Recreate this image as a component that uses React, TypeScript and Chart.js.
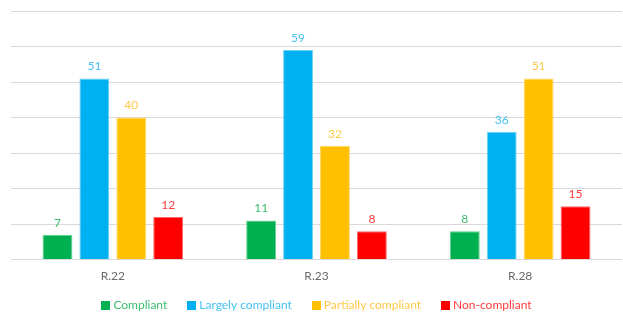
import React, { useEffect, useRef } from "react";
import { Chart, registerables } from "chart.js";

Chart.register(...registerables);

const categories = ["R.22", "R.23", "R.28"];
const seriesNames = ["Compliant", "Largely compliant", "Partially compliant", "Non-compliant"];
const compliant = [7, 11, 8];
const largelyCompliant = [51, 59, 36];
const partiallyCompliant = [40, 32, 51];
const nonCompliant = [12, 8, 15];
const yTicks = [0, 10, 20, 30, 40, 50, 60, 70];

const barColors = ["#00B050", "#00B0F0", "#FFC000", "#FF0000"];
const borderColors = ["#5fd08f", "#6fd3f6", "#ffd766", "#ff6b6b"];
const labelColors = ["#3dbd6e", "#45c2f2", "#ffc94a", "#ff3b3b"];
const FONT = "Lato, 'Open Sans', sans-serif";

const dataLabelPlugin = {
  id: "dataLabels",
  afterDatasetsDraw(chart: any) {
    const ctx = chart.ctx;
    ctx.save();
    ctx.font = `12px ${FONT}`;
    ctx.textAlign = "center";
    ctx.textBaseline = "bottom";
    chart.data.datasets.forEach((ds: any, i: number) => {
      const meta = chart.getDatasetMeta(i);
      meta.data.forEach((bar: any, j: number) => {
        ctx.fillStyle = labelColors[i];
        ctx.fillText(String(ds.data[j]), bar.x, bar.y - 6);
      });
    });
    ctx.restore();
  },
};

const bottomLegendPlugin = {
  id: "bottomLegend",
  afterDraw(chart: any) {
    const ctx = chart.ctx;
    const box = 9;
    const gap = 3;
    const itemGap = 20;
    ctx.save();
    ctx.font = `12px ${FONT}`;
    ctx.textBaseline = "middle";
    ctx.textAlign = "left";
    const widths = chart.data.datasets.map((ds: any) => box + gap + ctx.measureText(ds.label).width);
    const total = widths.reduce((a: number, b: number) => a + b, 0) + itemGap * (widths.length - 1);
    const area = chart.chartArea;
    let x = (area.left + area.right) / 2 - total / 2;
    const cy = chart.height - 9;
    chart.data.datasets.forEach((ds: any, i: number) => {
      ctx.fillStyle = barColors[i];
      ctx.fillRect(Math.round(x), Math.round(cy - box / 2), box, box);
      ctx.fillStyle = labelColors[i];
      ctx.fillText(ds.label, x + box + gap, cy);
      x += widths[i] + itemGap;
    });
    ctx.restore();
  },
};

export default function App() {
  const ref = useRef<HTMLCanvasElement>(null);
  useEffect(() => {
    document.body.style.margin = "0";
    const seriesData = [compliant, largelyCompliant, partiallyCompliant, nonCompliant];
    const chart = new Chart(ref.current as HTMLCanvasElement, {
      type: "bar",
      data: {
        labels: categories,
        datasets: seriesNames.map((name, i) => ({
          label: name,
          data: seriesData[i],
          backgroundColor: barColors[i],
          borderColor: borderColors[i],
          borderWidth: 1,
          categoryPercentage: 0.725,
          barPercentage: 0.81,
        })),
      },
      options: {
        animation: false,
        responsive: false,
        maintainAspectRatio: false,
        layout: { padding: { left: 11, right: 1, top: 11, bottom: 22 } },
        plugins: {
          tooltip: { enabled: false },
          legend: { display: false },
        },
        scales: {
          x: {
            grid: { display: false, drawTicks: false },
            border: { display: false },
            ticks: { color: "#6b6b6b", font: { family: FONT, size: 12 }, padding: 9 },
          },
          y: {
            min: 0,
            max: 70,
            afterBuildTicks: (axis: any) => {
              axis.ticks = yTicks.map((v) => ({ value: v }));
            },
            grid: { color: "#d9d9d9", lineWidth: 1, drawTicks: false },
            border: { display: false },
            ticks: { display: false },
          },
        },
      },
      plugins: [dataLabelPlugin, bottomLegendPlugin],
    } as any);
    return () => chart.destroy();
  }, []);
  return (
    <div style={{ position: "absolute", left: 0, top: 0, width: 623, height: 314, background: "#fff" }}>
      <canvas ref={ref} width={623} height={314} style={{ width: 623, height: 314 }} />
    </div>
  );
}
